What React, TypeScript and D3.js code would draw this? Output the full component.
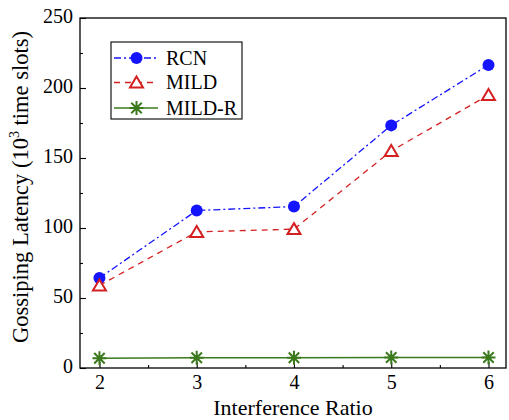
import React, { useEffect, useRef } from 'react';
import * as d3 from 'd3';

const ratios = [2, 3, 4, 5, 6];
const rcn = [64.3, 112.5, 115.3, 173.3, 216.5];
const mild = [59, 97.2, 99.2, 155, 195];
const mildR = [7, 7.3, 7.3, 7.5, 7.5];
const yTicks = [0, 50, 100, 150, 200, 250];
const seriesNames = ['RCN', 'MILD', 'MILD-R'];

const App = () => {
  const ref = useRef<SVGSVGElement>(null);
  const width = 509;
  const height = 420;
  const margin = { top: 18, right: 3, bottom: 52, left: 80 };
  const font = 'Liberation Serif';

  useEffect(() => {
    const svg = d3.select(ref.current);
    svg.selectAll('*').remove();

    const x = d3.scaleLinear()
      .domain([1.8, 6.18])
      .range([margin.left, width - margin.right]);
    const y = d3.scaleLinear()
      .domain([0, 250])
      .range([height - margin.bottom, margin.top]);

    // frame
    svg.append('rect')
      .attr('x', margin.left)
      .attr('y', margin.top)
      .attr('width', width - margin.right - margin.left)
      .attr('height', height - margin.bottom - margin.top)
      .attr('fill', 'none')
      .attr('stroke', 'black')
      .attr('stroke-width', 1.3);

    // ticks inward
    const bottomAxis = svg.append('g')
      .attr('transform', `translate(0,${height - margin.bottom})`)
      .call(d3.axisBottom(x).tickValues(ratios).tickSize(-6).tickPadding(7).tickFormat(d3.format('d')));
    svg.append('g')
      .attr('transform', `translate(0,${height - margin.bottom})`)
      .call(d3.axisBottom(x).tickValues([2.5, 3.5, 4.5, 5.5]).tickSize(-3).tickFormat(() => ''));
    const leftAxis = svg.append('g')
      .attr('transform', `translate(${margin.left},0)`)
      .call(d3.axisLeft(y).tickValues(yTicks).tickSize(-6).tickPadding(7));
    svg.append('g')
      .attr('transform', `translate(${margin.left},0)`)
      .call(d3.axisLeft(y).tickValues([25, 75, 125, 175, 225]).tickSize(-3).tickFormat(() => ''));

    svg.selectAll('.domain').remove();
    svg.selectAll('g').attr('font-family', font);
    svg.selectAll('.tick line').attr('stroke-width', 1.1);
    [bottomAxis, leftAxis].forEach(a => a.selectAll('text')
      .attr('font-family', font)
      .attr('font-size', 20)
      .attr('fill', 'black'));
    leftAxis.selectAll('text').attr('dy', '0.2em');

    // axis titles
    svg.append('text')
      .attr('x', (margin.left + width - margin.right) / 2)
      .attr('y', 415)
      .attr('text-anchor', 'middle')
      .attr('font-family', font)
      .attr('font-size', 22)
      .text('Interference Ratio');

    const yl = svg.append('text')
      .attr('transform', 'translate(28,187) rotate(-90)')
      .attr('text-anchor', 'middle')
      .attr('font-family', font)
      .attr('font-size', 22.5);
    yl.append('tspan').text('Gossiping Latency (10');
    yl.append('tspan').attr('dy', -9).attr('font-size', 14).text('3');
    yl.append('tspan').attr('dy', 9).text(' time slots)');

    const line = d3.line<number>()
      .x((_, i) => x(ratios[i]))
      .y(d => y(d));

    const styles = [
      { data: rcn, color: '#1414ff', dash: '7,3,2,3', marker: 'circle' },
      { data: mild, color: '#d42020', dash: '6,5', marker: 'triangle' },
      { data: mildR, color: '#3b7a1c', dash: null, marker: 'star' },
    ];

    const drawMarker = (g: any, kind: string, color: string, cx: number, cy: number) => {
      if (kind === 'circle') {
        g.append('circle').attr('cx', cx).attr('cy', cy).attr('r', 6).attr('fill', color);
      } else if (kind === 'triangle') {
        g.append('path')
          .attr('d', `M${cx},${cy - 6}L${cx + 6.5},${cy + 5}L${cx - 6.5},${cy + 5}Z`)
          .attr('fill', 'white')
          .attr('stroke', color)
          .attr('stroke-width', 2);
      } else {
        const r = 7;
        const p = [
          `M${cx - r},${cy}L${cx + r},${cy}`,
          `M${cx},${cy - r}L${cx},${cy + r}`,
          `M${cx - r * 0.75},${cy - r * 0.75}L${cx + r * 0.75},${cy + r * 0.75}`,
          `M${cx - r * 0.75},${cy + r * 0.75}L${cx + r * 0.75},${cy - r * 0.75}`,
        ].join('');
        g.append('path').attr('d', p).attr('stroke', color).attr('stroke-width', 2).attr('fill', 'none');
      }
    };

    styles.forEach(s => {
      const g = svg.append('g');
      g.append('path')
        .datum(s.data)
        .attr('d', line)
        .attr('fill', 'none')
        .attr('stroke', s.color)
        .attr('stroke-width', s.dash ? 1.3 : 1.6)
        .attr('stroke-dasharray', s.dash);
      s.data.forEach((v, i) => drawMarker(g, s.marker, s.color, x(ratios[i]), y(v)));
    });

    // legend
    const lg = svg.append('g');
    lg.append('rect')
      .attr('x', 111)
      .attr('y', 42)
      .attr('width', 131)
      .attr('height', 77)
      .attr('fill', 'white')
      .attr('stroke', 'black')
      .attr('stroke-width', 1.1);
    const rowY = [58, 82.5, 108];
    styles.forEach((s, i) => {
      lg.append('line')
        .attr('x1', 114).attr('x2', 158)
        .attr('y1', rowY[i]).attr('y2', rowY[i])
        .attr('stroke', s.color)
        .attr('stroke-width', s.dash ? 1.3 : 1.6)
        .attr('stroke-dasharray', s.dash);
      drawMarker(lg, s.marker, s.color, 136.5, rowY[i]);
      lg.append('text')
        .attr('x', 166)
        .attr('y', rowY[i] + 6.5)
        .attr('font-family', font)
        .attr('font-size', 20)
        .text(seriesNames[i]);
    });
  }, []);

  return (
    <svg
      ref={ref}
      width={width}
      height={height}
      style={{ position: 'absolute', left: 0, top: 0, background: 'white' }}
    />
  );
};

export default App;
